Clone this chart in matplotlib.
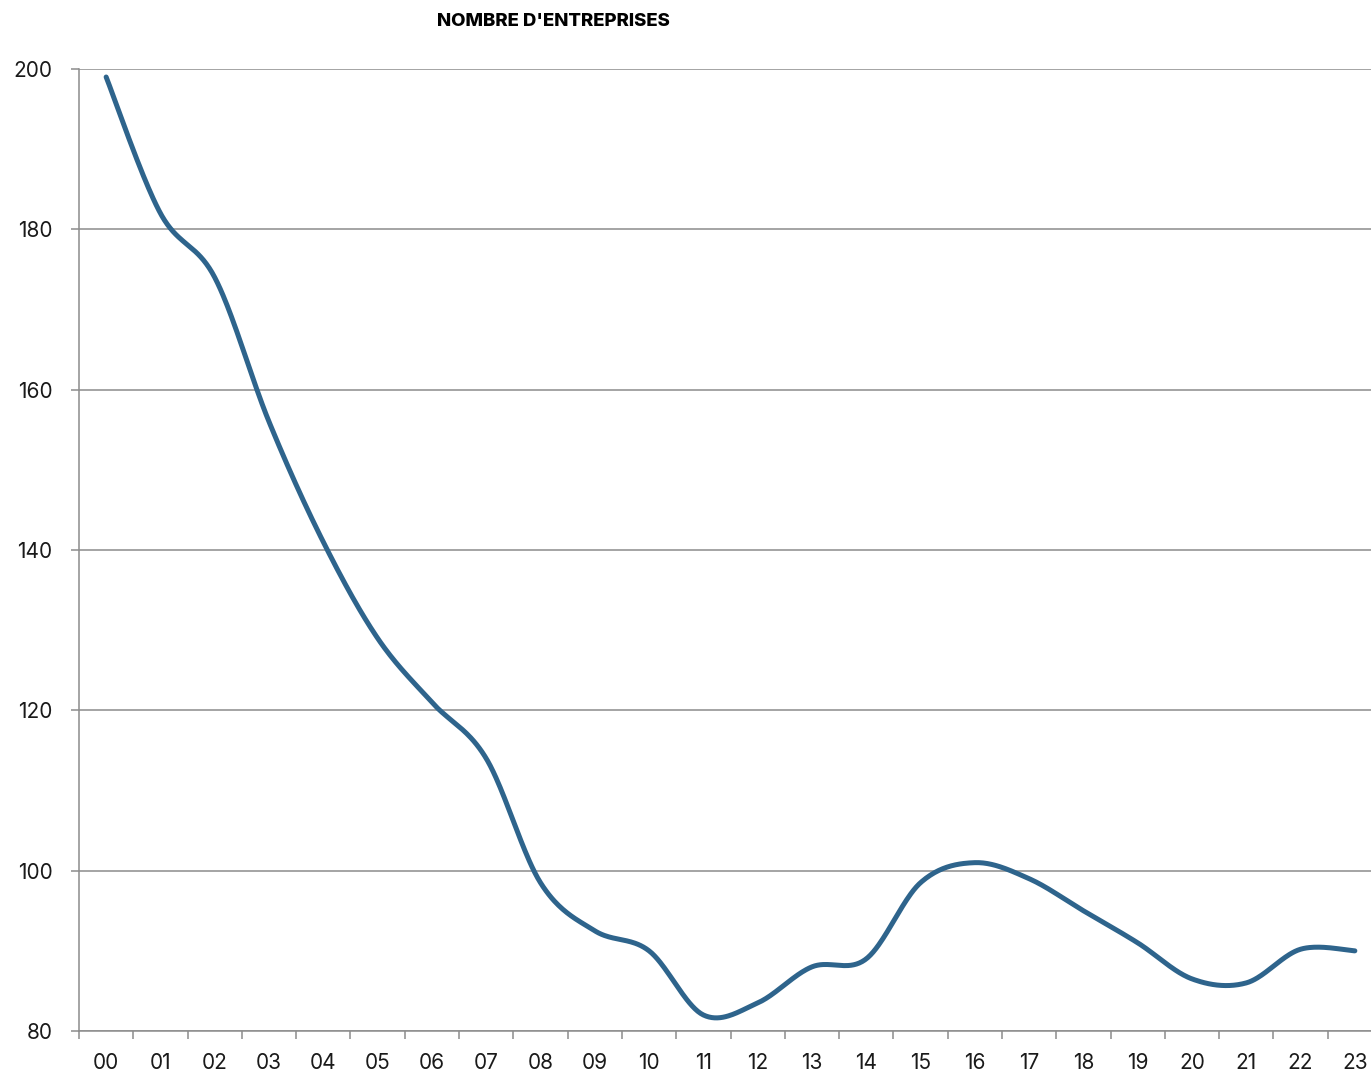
import numpy as np
import matplotlib.pyplot as plt

plt.rcParams['font.family'] = ['Inter', 'DejaVu Sans']

years = ['00', '01', '02', '03', '04', '05', '06', '07', '08', '09', '10', '11',
         '12', '13', '14', '15', '16', '17', '18', '19', '20', '21', '22', '23']
companies = [199, 182, 174, 156, 141, 129, 121, 114, 98.5, 92.5, 90, 82,
             83.5, 88, 89, 98.5, 101, 99, 95, 91, 86.5, 86, 90.2, 90]
title = "NOMBRE D'ENTREPRISES"


def smooth_line(xs, ys, steps=40):
    # bezier pieces a la excel "smoothed line"
    xs = np.asarray(xs, float)
    ys = np.asarray(ys, float)
    px = np.concatenate([[xs[0]], xs, [xs[-1]]])
    py = np.concatenate([[ys[0]], ys, [ys[-1]]])
    t = np.linspace(0, 1, steps)
    out_x, out_y = [], []
    for i in range(len(xs) - 1):
        p0 = np.array([px[i + 1], py[i + 1]])
        p3 = np.array([px[i + 2], py[i + 2]])
        p1 = p0 + (p3 - np.array([px[i], py[i]])) / 6
        p2 = p3 - (np.array([px[i + 3], py[i + 3]]) - p0) / 6
        b = ((1 - t) ** 3)[:, None] * p0 + (3 * (1 - t) ** 2 * t)[:, None] * p1 \
            + (3 * (1 - t) * t ** 2)[:, None] * p2 + (t ** 3)[:, None] * p3
        out_x.extend(b[:, 0])
        out_y.extend(b[:, 1])
    return out_x, out_y


fig = plt.figure(figsize=(13.71, 10.76), dpi=100)
ax = fig.add_axes([79 / 1371, 45 / 1076, 1303 / 1371, 962 / 1076])

x = np.arange(len(years))
sx, sy = smooth_line(x, companies)
ax.plot(sx, sy, color='#2e648c', lw=3.6, solid_capstyle='round', zorder=3)

grey = '#8c8c8c'
ax.set_xlim(-0.5, len(years) - 0.5)
ax.set_ylim(80, 200)
ax.set_yticks(range(80, 201, 20))
ax.yaxis.grid(True, color=grey, lw=1.1)
ax.set_axisbelow(True)

ax.set_xticks(x)
ax.set_xticklabels(years)
ax.set_xticks(np.arange(-0.5, len(years), 1), minor=True)
ax.tick_params(axis='x', which='major', length=0, pad=16, labelsize=15, colors='#1a1a1a')
ax.tick_params(axis='x', which='minor', length=6, width=1.1, color=grey, direction='out')
ax.tick_params(axis='y', length=6, width=1.1, color=grey, pad=13, labelsize=15, labelcolor='#1a1a1a')

for side in ['top', 'right']:
    ax.spines[side].set_visible(False)
for side in ['left', 'bottom']:
    ax.spines[side].set_color(grey)
    ax.spines[side].set_linewidth(1.1)

fig.text(553 / 1371, 1 - 21 / 1076, title, ha='center', va='center',
         fontsize=13.4, fontweight='heavy', color='black')

fig.savefig('out.png', dpi=100)
